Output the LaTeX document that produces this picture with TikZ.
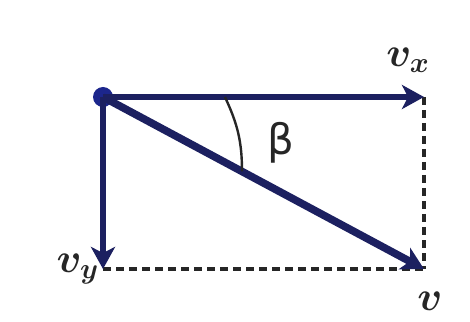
\documentclass[tikz,border=0pt]{standalone}
\usepackage{amsmath}
\usepackage{fontspec}
\usepackage{xcolor}
\usepackage{tikz}
\usetikzlibrary{arrows.meta, positioning, calc}
\newfontfamily\betafont{DejaVu Sans}
\definecolor{vecblue}{RGB}{28,32,96}
\definecolor{dotblue}{RGB}{28,38,140}

\begin{document}
\begin{tikzpicture}[
    x=0.5pt, y=0.5pt,
    vec/.style={draw=vecblue, line width=2.6pt, -{Stealth[length=11pt, width=12pt, inset=3pt]}},
    proj/.style={draw=black!85, line width=1.8pt, dash pattern=on 4pt off 2.5pt},
    lbl/.style={font=\fontsize{21}{24}\selectfont\boldmath, text=black!85}
]
\useasboundingbox (0,0) rectangle (470,321);

% Nodes
\coordinate (o) at (103,224);
\coordinate (a) at (424,224);
\coordinate (b) at (424,52);
\coordinate (c) at (103,52);
\node[circle, fill=dotblue, inner sep=0pt, minimum size=10pt] (dot) at (o) {};

\node[lbl] (vxlbl) at (408,261) {$v_x$};
\node[lbl] (vylbl) at (78,52) {$v_y$};
\node[lbl] (vlbl) at (430,20) {$v$};
\node[font=\fontsize{21}{24}\selectfont\betafont, text=black!85] (beta) at (281,178) {β};

% Arrows
\draw[proj] (a) -- (b);
\draw[proj] (c) -- (b);
\draw[vec] (o) -- (a);
\draw[vec] (o) -- (c);
\draw[vec, line width=3.8pt] (o) -- (b);

% Angle
\draw[black!85, line width=1.2pt] ($(o)!0.38!(a)$) to[out=-65, in=90] ($(o)!0.433!(b)$);

\end{tikzpicture}
\end{document}
